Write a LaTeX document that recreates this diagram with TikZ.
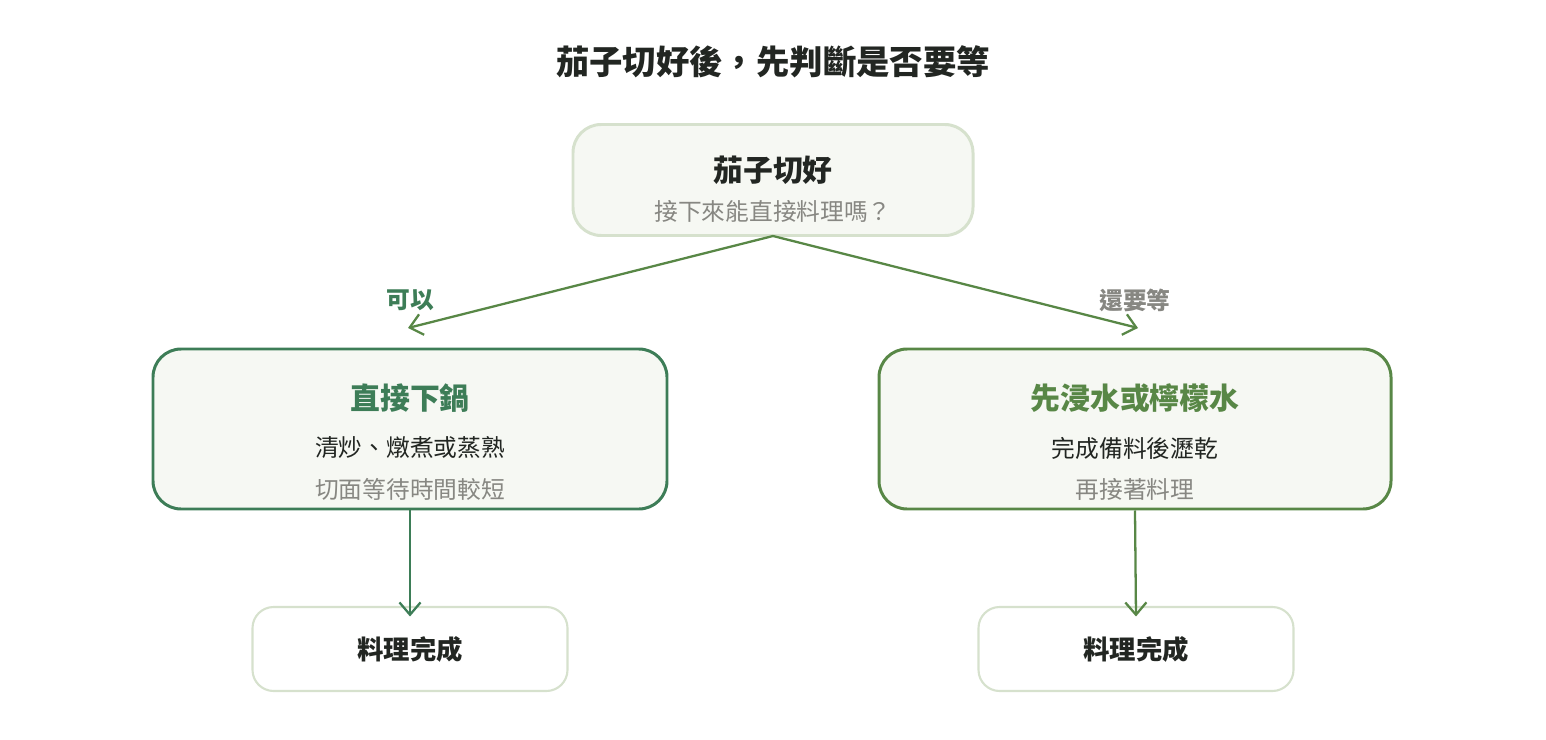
\documentclass[tikz,border=0pt]{standalone}
\usepackage{fontspec}
\setmainfont{Noto Sans CJK TC}
\usetikzlibrary{arrows.meta}
\definecolor{leafGreen}{RGB}{61,125,87}
\definecolor{oliveGreen}{RGB}{88,135,70}
\definecolor{paleFill}{RGB}{246,248,243}
\definecolor{paleEdge}{RGB}{214,225,205}
\definecolor{greyText}{RGB}{135,135,130}
\definecolor{darkText}{RGB}{34,38,34}
\tikzset{
  box/.style={draw, rounded corners=16pt, line width=1.7pt, fill=paleFill},
  arr/.style={-{Straight Barb[length=7pt,width=12pt]}, line width=1.3pt}
}
\begin{document}
\begin{tikzpicture}[x=0.02cm,y=-0.02cm]
                \useasboundingbox (0,0) rectangle (1546,740);
                % Title
                \node[font=\fontsize{19}{23}\selectfont\bfseries, text=darkText] (title) at (773,62) {茄子切好後，先判斷是否要等};
                % Question
                \node[box, draw=paleEdge, minimum width=400*0.02cm, minimum height=111*0.02cm] (q) at (773,180) {};
                \node[font=\fontsize{17}{20}\selectfont\bfseries, text=darkText] (qt) at (773,170) {茄子切好};
                \node[font=\fontsize{13.5}{16}\selectfont, text=greyText] (qs) at (773,211) {接下來能直接料理嗎？};
                % Left branch
                \node[box, draw=leafGreen, minimum width=514*0.02cm, minimum height=160*0.02cm] (l) at (410,429) {};
                \node[font=\fontsize{17}{20}\selectfont\bfseries, text=leafGreen] (lt) at (410,398) {直接下鍋};
                \node[font=\fontsize{13.5}{16}\selectfont, text=darkText] (ls) at (410,448) {清炒、燉煮或蒸熟};
                \node[font=\fontsize{13.5}{16}\selectfont, text=greyText] (ln) at (410,489) {切面等待時間較短};
                % Right branch
                \node[box, draw=oliveGreen, minimum width=512*0.02cm, minimum height=160*0.02cm] (r) at (1135,429) {};
                \node[font=\fontsize{17}{20}\selectfont\bfseries, text=oliveGreen] (rt) at (1135,398) {先浸水或檸檬水};
                \node[font=\fontsize{13.5}{16}\selectfont, text=darkText] (rs) at (1135,448) {完成備料後瀝乾};
                \node[font=\fontsize{13.5}{16}\selectfont, text=greyText] (rn) at (1135,489) {再接著料理};
                % Results
                \node[draw=paleEdge, rounded corners=12pt, line width=1.2pt, fill=white, minimum width=315*0.02cm, minimum height=84*0.02cm, font=\fontsize{15}{18}\selectfont\bfseries, text=darkText] (ld) at (410,649) {料理完成};
                \node[draw=paleEdge, rounded corners=12pt, line width=1.2pt, fill=white, minimum width=315*0.02cm, minimum height=84*0.02cm, font=\fontsize{15}{18}\selectfont\bfseries, text=darkText] (rd) at (1136,649) {料理完成};
                % Arrows
                \coordinate (qb) at (773,236);
                \coordinate (la) at (408,328);
                \coordinate (ra) at (1138,328);
                \draw[arr, oliveGreen] (qb) -- (la);
                \draw[arr, oliveGreen] (qb) -- (ra);
                \node[font=\fontsize{13.5}{16}\selectfont\bfseries, text=leafGreen] (yes) at (410,300) {可以};
                \node[font=\fontsize{13.5}{16}\selectfont\bfseries, text=greyText] (wait) at (1135,300) {還要等};
                \draw[arr, leafGreen] (l.south) -- ([yshift=-6pt]ld.north);
                \draw[arr, oliveGreen] (r.south) -- ([yshift=-6pt]rd.north);
            \end{tikzpicture}
\end{document}
